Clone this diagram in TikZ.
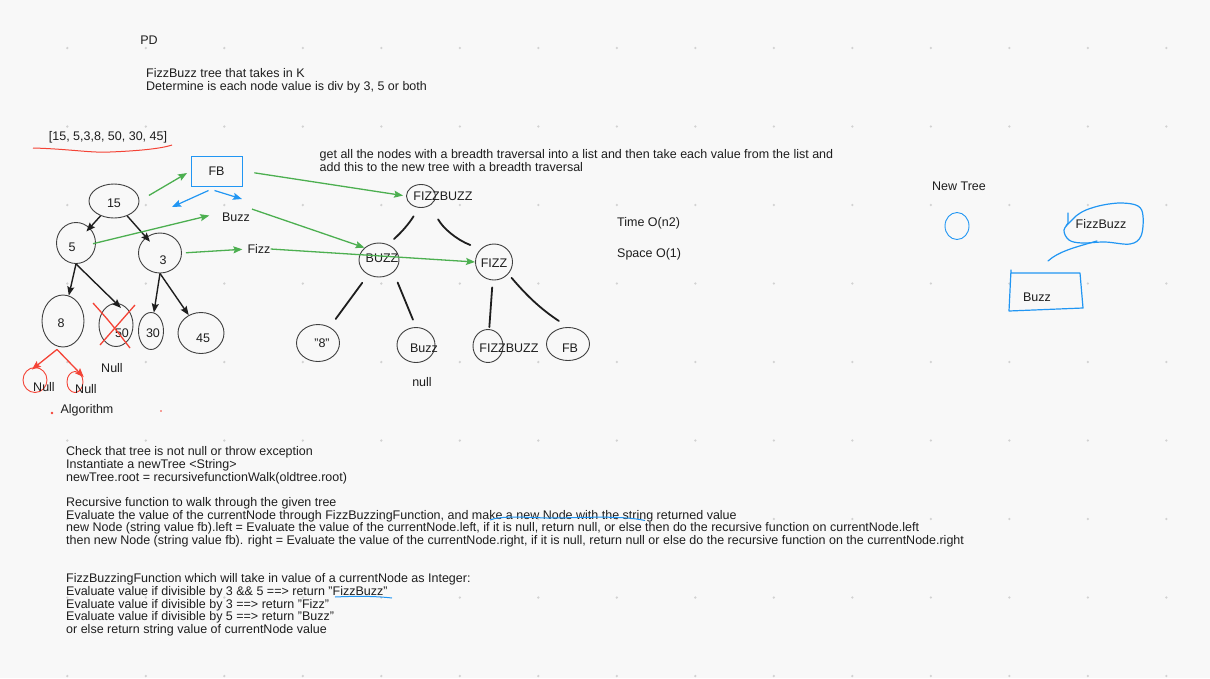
\documentclass[tikz,border=0pt]{standalone}
\usepackage{fontspec}
\setmainfont{Liberation Sans}
\usetikzlibrary{shapes.geometric,arrows.meta,positioning}

\definecolor{board}{HTML}{F8F8F8}
\definecolor{dotgrey}{HTML}{D2D2D2}
\definecolor{ink}{HTML}{1E1E1E}
\definecolor{pgreen}{HTML}{4CAF50}
\definecolor{pblue}{HTML}{2196F3}
\definecolor{pred}{HTML}{F44336}

\begin{document}
\begin{tikzpicture}[x=1pt,y=-1pt,font=\fontsize{12.5}{12.7}\selectfont,
    >={Stealth[length=9pt,width=7pt,inset=1.5pt]},
    ring/.style 2 args={ellipse,draw=ink!85,line width=0.9pt,minimum width=#1pt,minimum height=#2pt,inner sep=0pt},
    txt/.style={text=ink,inner sep=0pt},
    para/.style={txt,align=left,anchor=north west},
    hand/.style={ink,line width=1.8pt,line cap=round},
    garrow/.style={->,pgreen,line width=1.3pt},
    bpen/.style={pblue,line width=1.2pt,line cap=round,line join=round}]

\useasboundingbox (0,0) rectangle (1210,678);
\fill[board] (0,0) rectangle (1210,678);
\foreach \i in {0,...,14}
  \foreach \j in {0,...,8}
    \fill[dotgrey] (67.3+78.5*\i,48+78.5*\j) circle (1.3pt);

\node[txt] (pd) at (149,40) {PD};
\node[para] (task) at (146,68.4) {FizzBuzz tree that takes in K\\Determine is each node value is div by 3, 5 or both};
\node[txt] (lst) at (108,137) {[15, 5,3,8, 50, 30, 45]};
\draw[pred,line width=1pt] (33,148) .. controls (70,149) and (90,153) .. (110,152) .. controls (135,151) and (160,149) .. (172,145);

% old tree
\node[ring={50}{34}] (n15) at (114,201) {};
\node[ring={39}{41}] (n5)  at (76,243)  {};
\node[ring={43}{40}] (n3)  at (160,253) {};
\node[ring={42}{52}] (n8)  at (63,321)  {};
\node[ring={34}{43}] (n50) at (116,325) {};
\node[ring={25}{37}] (n30) at (151,331) {};
\node[ring={46}{41}] (n45) at (201,333) {};
\node[txt] (t15) at (114,203) {15};
\node[txt] (t5)  at (72,247)  {5};
\node[txt] (t3)  at (163,260) {3};
\node[txt] (t8)  at (61,323)  {8};
\node[txt] (t50) at (122,333) {50};
\node[txt] (t30) at (153,333) {30};
\node[txt] (t45) at (203,338) {45};

\path[->,ink,line width=1.4pt]
  (n15) edge[shorten >=-5pt] (n5)
        edge[shorten >=-6pt] (n3)
  (n5.south) edge (n8)
             edge[shorten >=-7pt] (n50.north)
  (n3.south) edge (n30)
             edge (n45);

\draw[pred,line width=1.3pt] (93,303) .. controls (110,322) .. (130,348)
                             (135,305) -- (100,345);

\node[ring={24}{25},draw=pred] (nl) at (35,380) {};
\node[ring={16}{21},draw=pred] (nr) at (75,382) {};
\coordinate (r8) at ([shift={(-6,2)}]n8.south);
\path[->,pred,line width=1.3pt]
  (r8) edge[shorten >=-4pt] (nl.north)
       edge[shorten >=-4pt] (nr.north east);
\node[txt] (nul1) at (44,387)  {Null};
\node[txt] (nul2) at (86,389)  {Null};
\node[txt] (nul3) at (112,368) {Null};
\node[txt] (alg)  at (87,410)  {Algorithm};
\fill[pred] (52,413) circle (1.4pt) (161,411) circle (0.9pt);

% FB step
\node[draw=pblue,line width=1pt,minimum width=51pt,minimum height=30pt,text=ink,inner sep=0pt] (fb) at (216.5,171) {FB};
\node[txt] (bz) at (236,217) {Buzz};
\node[txt] (fz) at (259,249) {Fizz};
\coordinate (bl) at (172,207);
\coordinate (br) at (242,199);
\draw[->,pblue,line width=1.2pt] ([shift={(-8,4)}]fb.south) -- (bl);
\draw[->,pblue,line width=1.2pt] ([shift={(-2,4)}]fb.south) -- (br);

% new tree
\node[ring={29}{23}] (rFZB)  at (421,196) {};
\node[ring={40}{34}] (rBZ)   at (379,260) {};
\node[ring={37}{36}] (rFZ)   at (494,262) {};
\node[ring={43}{37}] (r8q)   at (318,343) {};
\node[ring={38}{35}] (rBu)   at (416,345) {};
\node[ring={30}{33}] (rFZB2) at (488,346) {};
\node[ring={43}{33}] (rFB)   at (568,344) {};
\node[txt] (tFZB)  at (443,196) {FIZZBUZZ};
\node[txt] (tBZ)   at (382,258) {BUZZ};
\node[txt] (tFZ)   at (494,263) {FIZZ};
\node[txt] (t8q)   at (322,343) {"8"};
\node[txt] (tBu)   at (424,348) {Buzz};
\node[txt] (tFZB2) at (509,348) {FIZZBUZZ};
\node[txt] (tFB)   at (570,348) {FB};
\node[txt] (tnull) at (422,382) {null};

\path[hand]
  (rFZB.-100) edge[bend left=8,shorten <=10pt,shorten >=8pt] (rBZ.60)
  (rFZB.-45) edge[bend right=20,shorten <=16pt,shorten >=11pt] (rFZ.north west)
  (rBZ) edge[shorten <=10pt,shorten >=10pt] (r8q)
  (rBZ.south east) edge[shorten <=11pt,shorten >=8pt] (rBu.north)
  (rFZ) edge[shorten <=7pt,shorten >=2pt] (rFZB2)
  (rFZ.-40) edge[bend right=8,shorten <=5pt,shorten >=11pt] (rFB.north);

\path[garrow]
  (n15.east) edge[shorten <=11pt,shorten >=4pt] (fb.west)
  (n5.east) edge[shorten <=-3pt,shorten >=13pt] (bz.north west)
  (n3.east) edge[shorten <=4pt,shorten >=5pt] (fz.west)
  (fb.east) edge[shorten <=12pt,shorten >=3pt] (rFZB.west)
  ([yshift=4pt]bz.north east) edge[shorten <=2pt] (rBZ.north west)
  (fz.east) edge (rFZ.west);

\node[para] (plan) at (319.5,149.4) {get all the nodes with a breadth traversal into a list and then take each value from the list and\\add this to the new tree with a breadth traversal};
\node[txt,anchor=west] (time)  at (617,223) {Time O(n2)};
\node[txt,anchor=west] (space) at (617,254) {Space O(1)};

% sketch on the right
\node[txt] (newt) at (959,186) {New Tree};
\node[ring={24}{27},draw=pblue] (root) at (957,226) {};
\node[txt] (fzb) at (1101,224) {FizzBuzz};
\draw[bpen] plot[smooth cycle,tension=0.6] coordinates {(1071,221) (1064,230) (1069,240) (1082,243) (1105,242) (1130,244) (1141,236) (1143,216) (1138,206) (1122,203) (1103,205) (1086,210) (1076,216)};
\draw[bpen] (1068,213) -- (1068,223) -- (1066,226);
\node[txt] (bbx) at (1037,297) {Buzz};
\draw[bpen] (1011,270) -- (1011,273) -- (1080,273) -- (1083,308) -- (1009,311) -- cycle;
\draw[bpen] (1097,241) .. controls (1072,248) and (1058,252) .. (1048,261);

% algorithm
\node[para] (chk) at (66,446.4) {Check that tree is not null or throw exception\\Instantiate a newTree <String>\\newTree.root = recursivefunctionWalk(oldtree.root)};
\node[para] (rec) at (66,497.2) {Recursive function to walk through the given tree\\Evaluate the value of the currentNode through FizzBuzzingFunction, and make a new Node with the string returned value\\new Node (string value fb).left = Evaluate the value of the currentNode.left, if it is null, return null, or else then do the recursive function on currentNode.left\\then new Node (string value fb). right = Evaluate the value of the currentNode.right, if it is null, return null or else do the recursive function on the currentNode.right};
\node[para] (fbf) at (66,573.4) {FizzBuzzingFunction which will take in value of a currentNode as Integer:\\Evaluate value if divisible by 3 \&\& 5 ==> return "FizzBuzz"\\Evaluate value if divisible by 3 ==> return "Fizz"\\Evaluate value if divisible by 5 ==> return "Buzz"\\or else return string value of currentNode value};
\draw[pblue,line width=1pt] (490,520) .. controls (500,516) and (520,517) .. (547,518) .. controls (580,518) and (620,515) .. (645,520.5);
\draw[pblue,line width=1pt] (335,597) .. controls (355,596) and (375,596) .. (392,598);
\end{tikzpicture}
\end{document}
